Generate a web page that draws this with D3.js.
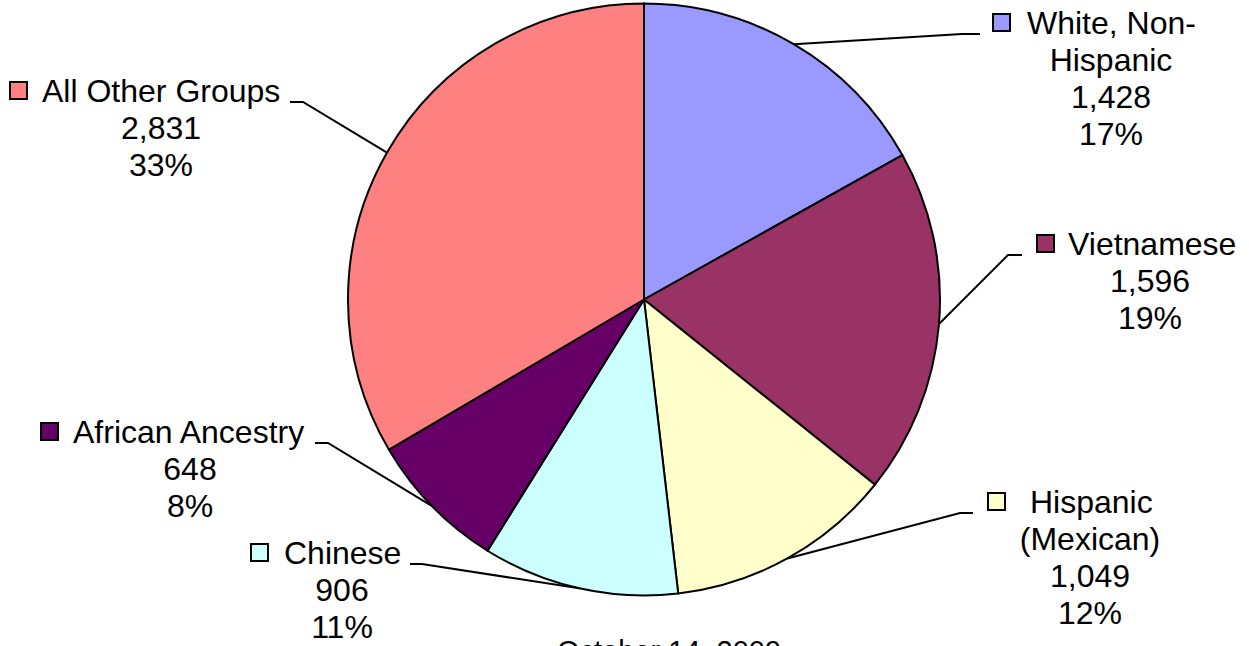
<!DOCTYPE html>
<html>
<head>
<meta charset="utf-8">
<script src="https://cdn.jsdelivr.net/npm/d3@7"></script>
<style>
    html, body { margin: 0; padding: 0; background: #fff; overflow: hidden; }
    text { font-family: "Liberation Sans", Arial, sans-serif; fill: #000; }
</style>
</head>
<body>
<div id="chart"></div>
<script>
// Chart data.
var categories = ["White, Non-Hispanic", "Vietnamese", "Hispanic (Mexican)", "Chinese", "African Ancestry", "All Other Groups"];
var counts = [1428, 1596, 1049, 906, 648, 2831];
// How each category name is broken over lines in the labels.
var categoryLines = [["White, Non-", "Hispanic"], ["Vietnamese"], ["Hispanic", "(Mexican)"], ["Chinese"], ["African Ancestry"], ["All Other Groups"]];
var colors = ["#9999ff", "#993366", "#ffffcc", "#ccffff", "#660066", "#ff8080"];
var dateLabel = "October 14, 2009";

// Dimensions.
var width = 1249;
var height = 646;
var cx = 644, cy = 299.5;
var radius = 296;
var lineHeight = 37;

// Where each label sits: key square, first line, centre of the other lines, leader elbow.
var labelLayout = [
    { keyX: 993, textX: 1027, midX: 1111, y: 34, elbowX: 962, endX: 980 },
    { keyX: 1037, textX: 1068, midX: 1150, y: 255, elbowX: 1008, endX: 1022 },
    { keyX: 988, textX: 1030, midX: 1090, y: 513, elbowX: 960, endX: 973 },
    { keyX: 251, textX: 284, midX: 342, y: 564, elbowX: 422, endX: 410 },
    { keyX: 41, textX: 73, midX: 190, y: 443, elbowX: 328, endX: 315 },
    { keyX: 10, textX: 42, midX: 161, y: 102, elbowX: 303, endX: 290 }
];

var total = d3.sum(counts);
var fmtCount = d3.format(",");
var fmtPct = d3.format(".0%");

var svg = d3.select("#chart")
    .append("svg")
    .attr("width", width)
    .attr("height", height);

var pie = d3.pie()
    .sort(null)
    .value(function(d) { return d; });

var arc = d3.arc()
    .innerRadius(0)
    .outerRadius(radius);

var arcs = pie(counts);

var vis = svg.append("g")
    .attr("transform", "translate(" + cx + "," + cy + ")");

// Slices.
vis.selectAll("path")
    .data(arcs)
    .enter().append("path")
    .attr("d", arc)
    .style("fill", function(d, i) { return colors[i]; })
    .style("stroke", "#000")
    .style("stroke-width", 2)
    .style("stroke-linejoin", "round");

// Leader lines: from the middle of each slice's edge to its label.
svg.selectAll("polyline.leader")
    .data(arcs)
    .enter().append("polyline")
    .attr("class", "leader")
    .attr("points", function(d, i) {
        var a = (d.startAngle + d.endAngle) / 2;
        var l = labelLayout[i];
        var px = cx + radius * Math.sin(a);
        var py = cy - radius * Math.cos(a);
        return [px + "," + py, l.elbowX + "," + l.y, l.endX + "," + l.y].join(" ");
    })
    .style("fill", "none")
    .style("stroke", "#000")
    .style("stroke-width", 2);

// Labels: key square, category name, count, percentage.
var labels = svg.selectAll("g.label")
    .data(arcs)
    .enter().append("g")
    .attr("class", "label");

labels.append("rect")
    .attr("x", function(d, i) { return labelLayout[i].keyX; })
    .attr("y", function(d, i) { return labelLayout[i].y - 20; })
    .attr("width", 17)
    .attr("height", 17)
    .style("fill", function(d, i) { return colors[i]; })
    .style("stroke", "#000")
    .style("stroke-width", 2);

labels.each(function(d, i) {
    var g = d3.select(this);
    var l = labelLayout[i];
    var lines = categoryLines[i].slice(1)
        .concat([fmtCount(counts[i]), fmtPct(counts[i] / total)]);

    g.append("text")
        .attr("x", l.textX)
        .attr("y", l.y)
        .style("font-size", "32px")
        .text(categoryLines[i][0]);

    g.selectAll("text.sub")
        .data(lines)
        .enter().append("text")
        .attr("class", "sub")
        .attr("x", l.midX)
        .attr("y", function(t, j) { return l.y + (j + 1) * lineHeight; })
        .attr("text-anchor", "middle")
        .style("font-size", "32px")
        .text(function(t) { return t; });
});

// Date caption under the pie (cut off by the bottom edge).
svg.append("text")
    .attr("x", 669)
    .attr("y", 661)
    .attr("text-anchor", "middle")
    .style("font-size", "29px")
    .text(dateLabel);
</script>
</body>
</html>
